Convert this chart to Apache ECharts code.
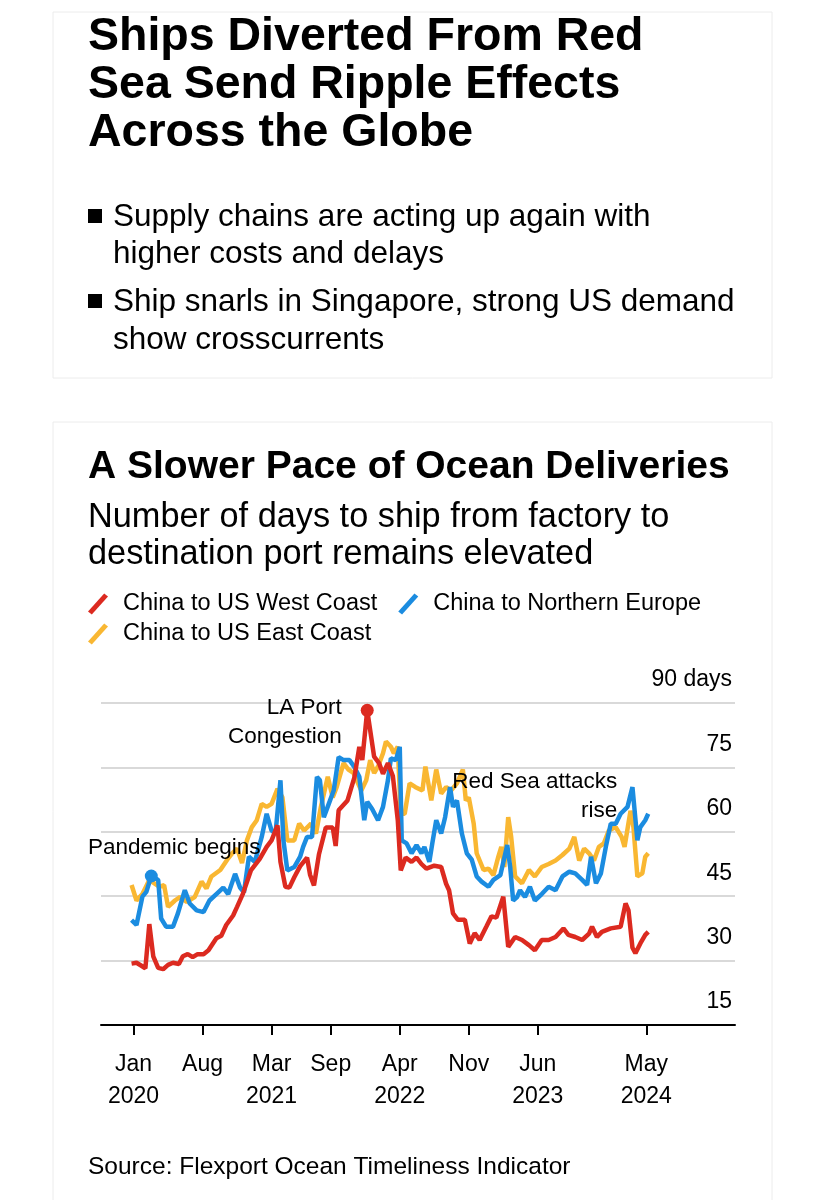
<!DOCTYPE html>
<html>
<head>
<meta charset="utf-8">
<script src="https://cdn.jsdelivr.net/npm/echarts@6/dist/echarts.min.js"></script>
<style>
html,body{margin:0;padding:0;background:#fff;}
#chart{width:825px;height:1200px;}
</style>
</head>
<body>
<div id="chart"></div>
<script>
// ---- Data (x = months since Jan 2020) ----
const seriesNames = ['China to US West Coast', 'China to Northern Europe', 'China to US East Coast'];

const westMonths = [-0.2,0.3,0.8,1.2,1.6,2.0,2.5,3.0,3.5,4.0,4.6,5.0,5.5,6.0,6.5,7.1,7.6,8.4,8.9,9.4,10.1,10.5,11.1,11.9,12.8,13.5,14.0,14.6,14.9,15.4,15.8,16.3,16.9,17.6,17.9,18.3,18.8,19.5,20.2,20.5,20.8,21.7,22.4,22.9,23.2,23.7,24.4,24.9,25.3,25.8,26.3,26.8,27.1,27.6,28.2,28.7,29.2,29.7,30.5,31.2,31.7,32.0,32.4,32.9,33.6,34.1,34.6,35.1,35.8,36.3,36.8,37.5,38.0,38.7,39.4,40.1,40.7,41.4,42.1,42.8,43.6,44.1,44.8,45.5,46.2,46.5,47.0,47.5,48.4,49.4,49.9,50.2,50.6,50.9,51.4,51.9,52.2];
const westValues = [29.3,29.5,28.8,28.2,38.5,31,28.3,28,29,29.5,29.2,31,31.5,30.8,31.5,31.5,32.4,35.2,35.8,38.3,40.5,42.5,45.6,51,53.7,56.5,58,61.5,53,47.2,47,49.4,52,54,50,47.5,54.7,61,61,56.7,65,67.3,72.7,79.8,76.7,88.3,77.5,76,73.5,76,73,62.7,51,54,53,54,52.5,51.4,52.1,51.8,47.9,46.4,41,39.5,39.5,34,36.4,34.8,38,40.3,40,44.9,33.2,35.5,34.8,33.6,32.4,34.8,34.8,35.5,37.5,36,35.5,34.8,36.3,37.9,35.5,36.7,37.5,37.9,43.3,41.7,33,31.7,34,36,36.7];

const europeMonths = [-0.2,0.3,0.9,1.3,1.8,2.5,2.8,3.3,4.0,4.5,5.2,5.7,6.4,7.1,7.7,8.4,9.1,9.6,10.3,10.8,11.2,11.7,12.3,13.0,13.5,14.0,14.4,14.9,15.2,15.6,16.3,16.9,17.2,17.6,18.1,18.6,18.9,19.3,19.8,20.3,20.8,21.3,21.9,22.4,22.9,23.4,23.7,24.2,24.8,25.3,25.8,26.1,26.6,27.0,27.2,27.7,28.2,28.7,29.2,29.5,30.0,30.3,30.7,31.2,31.6,32.1,32.4,32.8,33.3,33.8,34.3,34.8,35.3,36.0,36.5,37.2,37.9,38.2,38.5,38.9,39.2,39.7,40.2,40.7,41.4,42.1,42.8,43.5,44.2,44.8,45.5,46.0,46.4,46.9,47.4,47.9,48.4,48.9,49.4,50.1,50.6,51.1,51.4,51.9,52.2];
const europeValues = [39.4,38.3,44.9,46,49.7,48.8,39.8,37.9,37.9,41,46.4,43.3,41.7,41.3,44,45.5,47,45.5,50.2,47,45.9,54.2,53,58.8,64.2,60.3,59.6,72,58,51,51.8,54.2,56.5,58.8,58.8,72.8,72,63.4,66.5,69.6,77.4,76.7,76.7,75.1,72.8,62.7,67,65.3,62.7,65.8,72,77.1,76.7,79.8,58,57.3,55,56.9,55,56.5,53,57.3,62.7,59.6,63.4,70.4,65.8,67.3,59.6,55,53.5,49.6,48.4,47.2,48.8,49.9,56.9,51.8,44,44.8,46.4,44.8,47.2,44,45.5,47.2,46.4,49.6,50.7,50.3,48.8,47.6,54.2,48,50.3,56.5,61.9,61.9,64.2,65.8,70.4,58,61.1,62.7,64.2];

const eastMonths = [-0.2,0.3,0.9,1.6,2.6,3.1,3.5,4.2,4.7,5.4,6.2,6.9,7.4,7.9,8.8,9.5,10.0,10.5,11.0,11.5,12.0,12.5,13.0,13.5,14.0,14.6,15.1,15.6,16.3,16.8,17.3,18.0,18.5,19.0,19.7,20.2,20.6,21.3,21.8,22.3,23.1,23.6,24.0,24.4,24.8,25.3,25.6,26.1,26.4,26.8,27.1,27.5,28.0,28.6,29.3,29.6,30.2,30.7,31.2,31.7,32.2,32.8,33.4,33.7,34.0,34.5,34.8,35.5,36.0,36.5,37.0,37.3,37.6,38.0,38.3,38.7,39.4,40.1,40.7,41.4,42.1,42.8,43.5,44.2,44.7,45.2,45.7,46.2,46.7,47.2,47.7,48.2,48.9,49.5,49.8,50.4,50.7,51.1,51.6,51.9,52.2];
const eastValues = [47.6,44,45.5,48.8,47.2,47.6,42.5,44,44.8,43.7,44.8,48.4,46.8,49.6,51.1,53.5,55,56.1,52.7,58,61.1,62.7,66.5,65.8,66.5,70,68,58,58,61.9,60.3,61.9,59.6,65.8,72.8,68,70.4,76,74.5,73.7,69.6,72,76.7,73.7,75.2,78.3,81,79.8,78.3,79.8,64.2,64.2,71.3,70.4,69.6,75.2,67.3,74.5,68.9,70.4,69.6,71.3,74.5,67.3,68,61.9,55,51.1,51.4,49.9,54.2,56.5,51.8,63.4,58.8,49.6,48,51.1,49.6,51.8,52.5,53.3,54.6,56.1,58.8,53.3,56.1,55,53.3,56.5,57.3,60.3,61.1,58.8,56.5,64.9,61.1,49.6,50.3,54.2,55];

const xTickMonths = [0, 7, 14, 20, 27, 34, 41, 52];
const xTickLabels = ['Jan\n2020', 'Aug', 'Mar\n2021', 'Sep', 'Apr\n2022', 'Nov', 'Jun\n2023', 'May\n2024'];
const yTicks = [15, 30, 45, 60, 75, 90];
const yUnit = ' days';

const annotations = {
  peak: 'LA Port\nCongestion',
  pandemic: 'Pandemic begins',
  redSea: 'Red Sea attacks\nrise'
};

// ---- Helpers ----
const zip = (xs, ys) => xs.map((x, i) => [x, ys[i]]);
const FONT = '"Liberation Sans", Arial, Helvetica, sans-serif';
const RED = '#dc2a20', BLUE = '#1b8ce0', YELLOW = '#f9b732';
const LINE_W = 4.5;

const westData = zip(westMonths, westValues);
const europeData = zip(europeMonths, europeValues);
const eastData = zip(eastMonths, eastValues);

// peak of West Coast series
let iPeak = 0;
westValues.forEach((v, i) => { if (v > westValues[iPeak]) iPeak = i; });
// pandemic marker: first local high of Northern Europe series (early 2020)
let iPan = 0;
for (let i = 0; i < 8; i++) if (europeValues[i] > europeValues[iPan]) iPan = i;

const slashIcon = 'path://M0,19 L17,0 L21,3 L4,22 Z';

const chart = echarts.init(document.getElementById('chart'), null, {renderer: 'canvas'});

function txt(text, x, y, size, weight) {
  return {
    type: 'text', x: x, y: y, z: 10,
    style: {
      text: text,
      font: (weight || 'normal') + ' ' + size + 'px ' + FONT,
      fill: '#000',
      textAlign: 'left',
      textVerticalAlign: 'middle'
    }
  };
}

const graphics = [
  {type: 'rect', z: -5, shape: {x: 53, y: 12, width: 719, height: 366}, style: {fill: '#fff', stroke: '#ececec', lineWidth: 1}},
  {type: 'rect', z: -5, shape: {x: 53, y: 422, width: 719, height: 800}, style: {fill: '#fff', stroke: '#ececec', lineWidth: 1}},
  txt('Ships Diverted From Red', 88, 37, 46.5, 'bold'),
  txt('Sea Send Ripple Effects', 88, 85, 46.5, 'bold'),
  txt('Across the Globe', 88, 133, 46.5, 'bold'),
  {type: 'rect', z: 10, shape: {x: 88, y: 209, width: 14, height: 14}, style: {fill: '#000'}},
  txt('Supply chains are acting up again with', 113, 217, 31.5),
  txt('higher costs and delays', 113, 254, 31.5),
  {type: 'rect', z: 10, shape: {x: 88, y: 294, width: 14, height: 14}, style: {fill: '#000'}},
  txt('Ship snarls in Singapore, strong US demand', 113, 302, 31.5),
  txt('show crosscurrents', 113, 340, 31.5),
  txt('A Slower Pace of Ocean Deliveries', 88, 467, 39, 'bold'),
  txt('Number of days to ship from factory to', 88, 518, 34.3),
  txt('destination port remains elevated', 88, 555, 34.3),
  txt('Source: Flexport Ocean Timeliness Indicator', 88, 1167, 24.5)
];

const legendBase = {
  left: 88, padding: 0, itemWidth: 20, itemHeight: 21, itemGap: 21, icon: slashIcon,
  selectedMode: false,
  textStyle: {fontFamily: FONT, fontSize: 23.5, color: '#000', padding: [0, 0, 0, 10]}
};

const option = {
  backgroundColor: '#fff',
  animation: false,
  graphic: graphics,
  legend: [
    Object.assign({}, legendBase, {top: 592, data: [seriesNames[0], seriesNames[1]]}),
    Object.assign({}, legendBase, {top: 622, data: [seriesNames[2]]})
  ],
  grid: {left: 101, right: 90, top: 703, bottom: 175, containLabel: false, outerBoundsMode: 'none'},
  xAxis: {
    type: 'value', min: -3.3, max: 61,
    axisLine: {show: true, lineStyle: {color: '#000', width: 2}},
    axisTick: {show: true, length: 10, lineStyle: {color: '#000', width: 2}, customValues: xTickMonths},
    axisLabel: {
      show: true, customValues: xTickMonths, margin: 24,
      fontFamily: FONT, fontSize: 23, lineHeight: 32, color: '#000',
      formatter: (v) => { const i = xTickMonths.indexOf(v); return i >= 0 ? xTickLabels[i] : ''; }
    },
    splitLine: {show: false}
  },
  yAxis: {
    type: 'value', position: 'right', min: yTicks[0], max: yTicks[yTicks.length - 1], interval: 15,
    axisLine: {show: false}, axisTick: {show: false},
    axisLabel: {
      inside: true, margin: 3, verticalAlign: 'bottom', padding: [0, 0, 11, 0],
      fontFamily: FONT, fontSize: 23, lineHeight: 24, color: '#000',
      formatter: (v) => v === yTicks[yTicks.length - 1] ? v + yUnit : String(v)
    },
    splitLine: {show: true, lineStyle: {color: '#d9d9d9', width: 2}}
  },
  series: [
    {
      name: seriesNames[2], type: 'line', data: eastData, showSymbol: false, symbol: 'none',
      lineStyle: {color: YELLOW, width: LINE_W}, itemStyle: {color: YELLOW}, z: 2
    },
    {
      name: seriesNames[1], type: 'line', data: europeData, showSymbol: false, symbol: 'none',
      lineStyle: {color: BLUE, width: LINE_W}, itemStyle: {color: BLUE}, z: 3,
      markPoint: {
        animation: false,
        data: [
          {
            coord: [europeMonths[iPan], europeValues[iPan]], symbol: 'circle', symbolSize: 13,
            itemStyle: {color: BLUE},
            label: {show: true, formatter: annotations.pandemic, position: 'top', distance: 10, offset: [23, 0],
              fontFamily: FONT, fontSize: 22.5, color: '#000'}
          },
          {
            coord: [49.07, 68.2], symbol: 'circle', symbolSize: 0,
            itemStyle: {color: 'rgba(0,0,0,0)'},
            label: {show: true, formatter: annotations.redSea, position: 'left', distance: 0, align: 'right',
              fontFamily: FONT, fontSize: 22.5, lineHeight: 29, color: '#000'}
          }
        ]
      }
    },
    {
      name: seriesNames[0], type: 'line', data: westData, showSymbol: false, symbol: 'none',
      lineStyle: {color: RED, width: LINE_W}, itemStyle: {color: RED}, z: 4,
      markPoint: {
        animation: false,
        data: [
          {
            coord: [westMonths[iPeak], westValues[iPeak]], symbol: 'circle', symbolSize: 13,
            itemStyle: {color: RED},
            label: {show: true, formatter: annotations.peak, position: 'left', distance: 19, align: 'right', offset: [0, 12],
              fontFamily: FONT, fontSize: 22.5, lineHeight: 29, color: '#000'}
          }
        ]
      }
    }
  ]
};

chart.setOption(option);
</script>
</body>
</html>
